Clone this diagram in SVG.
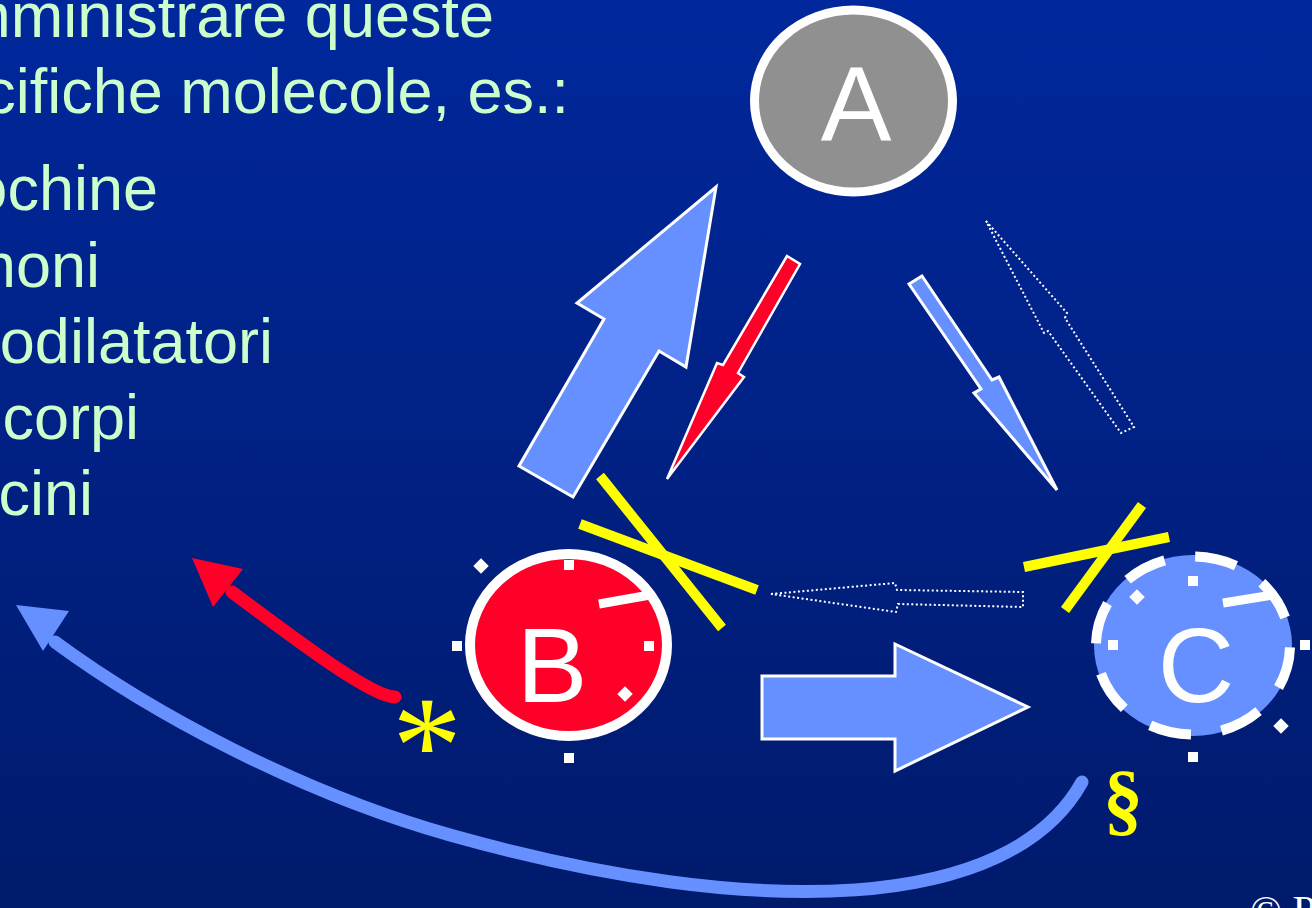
<svg xmlns="http://www.w3.org/2000/svg" width="1312" height="908" viewBox="0 0 1312 908">
<defs>
<linearGradient id="bg" x1="0" y1="0" x2="0" y2="1">
<stop offset="0" stop-color="#00289c"/>
<stop offset="1" stop-color="#001a6c"/>
</linearGradient>
<style>
.txt{font-family:"Liberation Sans",Arial,sans-serif;font-size:63px;fill:#ccffcc;text-anchor:end}
.lbl{font-family:"Liberation Sans",Arial,sans-serif;font-size:106px;fill:#ffffff;text-anchor:middle}
.tick{fill:#ffffff}
.hand{stroke:#ffffff;stroke-width:9;fill:none}
.x{stroke:#ffff00;stroke-width:10;fill:none}
.blk{fill:#6690ff;stroke:#ffffff;stroke-width:3;stroke-linejoin:miter}
.red{fill:#ff0029;stroke:#ffffff;stroke-width:2.5;stroke-linejoin:miter}
.dot{fill:none;stroke:#ffffff;stroke-width:2;stroke-dasharray:2 2.5}
</style>
</defs>
<rect x="0" y="0" width="1312" height="908" fill="url(#bg)"/>

<g id="text">
<text class="txt" x="494" y="37">mministrare queste</text>
<text class="txt" x="569" y="113">cifiche molecole, es.:</text>
<text class="txt" x="158" y="210">ochine</text>
<text class="txt" x="100" y="287">moni</text>
<text class="txt" x="273" y="363">odilatatori</text>
<text class="txt" x="139" y="439">corpi</text>
<text class="txt" x="93" y="515">cini</text>
</g>

<g id="connectors">
<!-- big arrow B to A -->
<polygon class="blk" points="716,187 686,367 659,351 573,497 519,466 604,319 577,303"/>
<!-- red arrow A to B -->
<polygon class="red" points="787,256 800,264 738,373 744,377 667,479 717,363 723,365"/>
<!-- blue arrow A to C -->
<polygon class="blk" points="909,284 922,276 992,380 999,377 1057,490 974,393 981,389"/>
<!-- dotted arrow C to A -->
<polygon class="dot" points="986,221 1067,313 1065,318 1134,427 1121,433 1048,331 1044,333"/>
<!-- dotted arrow C to B -->
<polygon class="dot" points="771,594 895,583 897,590 1023,592 1023,607 898,604 896,612"/>
<!-- big arrow B to C -->
<polygon class="blk" points="762,676 895,676 895,644 1028,707 895,771 895,739 762,739"/>
<!-- red curved arrow -->
<path d="M395,697 C372,697 300,643 232,592" fill="none" stroke="#ff0029" stroke-width="13" stroke-linecap="round"/>
<polygon points="192,558 243,569 213,607" fill="#ff0029"/>
<!-- blue curved arrow -->
<path d="M1082,782 C1010,912 760,922 450,835 C300,793 150,712 55,642" fill="none" stroke="#6690ff" stroke-width="13" stroke-linecap="round"/>
<polygon points="16,605 69,611 43,651" fill="#6690ff"/>
</g>

<g id="node-A">
<ellipse cx="853.5" cy="101" rx="99" ry="91" fill="#909090" stroke="#ffffff" stroke-width="9"/>
<text class="lbl" x="856" y="140">A</text>
</g>

<g id="node-B">
<ellipse cx="568.5" cy="645" rx="98.5" ry="91" fill="#ff0029" stroke="#ffffff" stroke-width="10"/>
<text class="lbl" x="552" y="702">B</text>
<rect class="tick" x="564" y="560" width="10" height="10"/>
<rect class="tick" x="452" y="641" width="10" height="10"/>
<rect class="tick" x="644" y="641" width="10" height="10"/>
<rect class="tick" x="564" y="753" width="10" height="10"/>
<rect class="tick" x="-5.5" y="-5.5" width="11" height="11" transform="translate(481 566) rotate(45)"/>
<rect class="tick" x="-5.5" y="-5.5" width="11" height="11" transform="translate(625 694) rotate(45)"/>
<line class="hand" x1="599" y1="604" x2="650" y2="595"/>
<line class="x" x1="600" y1="476" x2="722" y2="628"/>
<line class="x" x1="580" y1="524" x2="757" y2="590"/>
</g>

<g id="node-C">
<ellipse cx="1193" cy="645.5" rx="99" ry="90.5" fill="#6690ff"/>
<ellipse cx="1193" cy="645.5" rx="97" ry="89" fill="none" stroke="#ffffff" stroke-width="10" stroke-dasharray="42 31" stroke-dashoffset="-2"/>
<text class="lbl" x="1196" y="702">C</text>
<rect class="tick" x="1188" y="576" width="10" height="10"/>
<rect class="tick" x="1108" y="640" width="10" height="10"/>
<rect class="tick" x="1300" y="640" width="10" height="10"/>
<rect class="tick" x="1188" y="752" width="10" height="10"/>
<rect class="tick" x="-5.5" y="-5.5" width="11" height="11" transform="translate(1137 597) rotate(45)"/>
<rect class="tick" x="-5.5" y="-5.5" width="11" height="11" transform="translate(1281 726) rotate(45)"/>
<line class="hand" x1="1223" y1="603" x2="1273" y2="595"/>
<line class="x" x1="1142" y1="505" x2="1065" y2="610"/>
<line class="x" x1="1024" y1="567" x2="1169" y2="537"/>
</g>

<g id="marks">
<text x="427" y="792" font-family="'Liberation Serif',serif" font-size="140" fill="#ffff00" text-anchor="middle">*</text>
<text x="1103" y="826" font-family="'Liberation Serif',serif" font-weight="bold" font-size="80" fill="#ffff00">§</text>
<text x="1250" y="925" font-family="'Liberation Serif',serif" font-size="42" fill="#ffffff">© P</text>
</g>
</svg>
